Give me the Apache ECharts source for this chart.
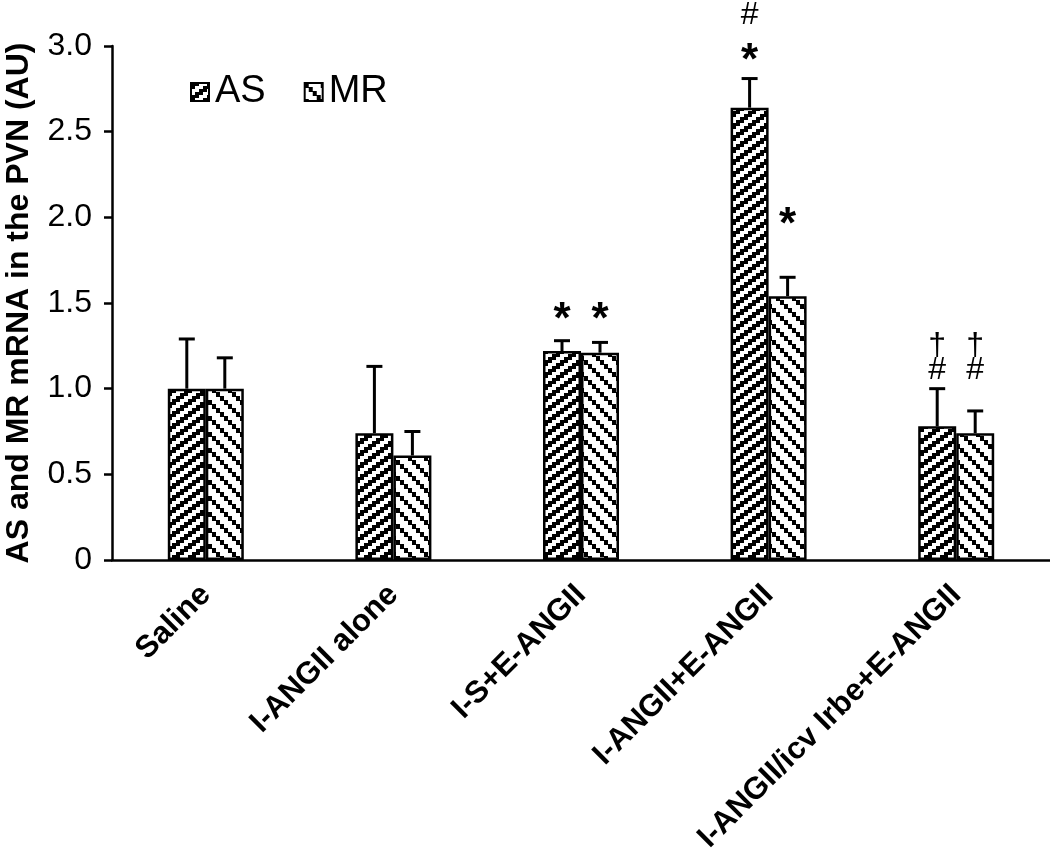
<!DOCTYPE html>
<html><head><meta charset="utf-8">
<script src="https://cdn.jsdelivr.net/npm/echarts@6/dist/echarts.min.js"></script>
<style>html,body{margin:0;padding:0;background:#fff}#c{width:1050px;height:861px}</style>
</head><body><div id="c"></div>
<script>
const categories = ['Saline', 'I-ANGII alone', 'I-S+E-ANGII', 'I-ANGII+E-ANGII', 'I-ANGII/icv Irbe+E-ANGII'];
const asValues = [1.00, 0.74, 1.22, 2.64, 0.78];
const asErrors = [0.29, 0.39, 0.06, 0.17, 0.22];
const mrValues = [1.00, 0.61, 1.21, 1.54, 0.74];
const mrErrors = [0.18, 0.14, 0.06, 0.11, 0.13];
const yTickLabels = ['0', '0.5', '1.0', '1.5', '2.0', '2.5', '3.0'];
// significance marks: [category index, y value, symbol]
const asMarks = [[2, 1.45, '*'], [3, 2.96, '*'], [3, 3.18, '#'], [4, 1.11, '#'], [4, 1.25, '†']];
const mrMarks = [[2, 1.45, '*'], [3, 2.00, '*'], [4, 1.11, '#'], [4, 1.25, '†']];

const FONT = '"Liberation Sans", Arial, Helvetica, sans-serif';
const BAR_W = 38;

function makePattern(W, H, fn) {
  const c = document.createElement('canvas');
  c.width = W; c.height = H;
  const ctx = c.getContext('2d');
  const img = ctx.createImageData(W, H);
  for (let y = 0; y < H; y++) for (let x = 0; x < W; x++) {
    const k = (y * W + x) * 4, b = fn(x, y) ? 0 : 255;
    img.data[k] = b; img.data[k + 1] = b; img.data[k + 2] = b; img.data[k + 3] = 255;
  }
  ctx.putImageData(img, 0, 0);
  return c;
}
// AS: "/" stair-step stripes; MR: "\" stair-step stripes
const asPat = makePattern(16, 12, (x, y) => ((y + Math.floor(x / 4) * 3) % 12) < 6);
const mrPat = makePattern(16, 16, (x, y) => ((((y - Math.floor(x / 4) * 4) % 16) + 16) % 16) < 5);

function errSeries(name, values, errors, sign) {
  return {
    type: 'custom', name: name + '-err', silent: true, clip: false, z: 5,
    data: values.map((v, i) => [i, v, v + errors[i]]),
    renderItem: (params, api) => {
      const base = api.coord([api.value(0), api.value(1)]);
      const top = api.coord([api.value(0), api.value(2)]);
      const x = base[0] + sign * BAR_W / 2;
      const st = { stroke: '#000', lineWidth: 3 };
      return { type: 'group', children: [
        { type: 'line', shape: { x1: x, y1: base[1], x2: x, y2: top[1] }, style: st },
        { type: 'line', shape: { x1: x - 8, y1: top[1], x2: x + 8, y2: top[1] }, style: st }
      ]};
    }
  };
}
function markSeries(name, marks, sign) {
  return {
    type: 'custom', name: name + '-mark', silent: true, clip: false, z: 6,
    data: marks.map(m => [m[0], m[1], m[2]]),
    renderItem: (params, api) => {
      const p = api.coord([api.value(0), api.value(1)]);
      const sym = marks[params.dataIndex][2];
      const isStar = sym === '*';
      return {
        type: 'text', x: p[0] + sign * BAR_W / 2, y: p[1] + (isStar ? 9 : 0),
        style: { text: sym, fill: '#000', align: 'center', verticalAlign: 'middle',
          font: (isStar ? 'bold 44px ' : '32px ') + FONT }
      };
    }
  };
}

const chart = echarts.init(document.getElementById('c'), null, { renderer: 'canvas' });
chart.setOption({
  backgroundColor: '#fff',
  animation: false,
  textStyle: { fontFamily: FONT, color: '#000' },
  grid: { left: 112, right: 0, top: 46, bottom: 301, containLabel: false, outerBoundsMode: 'none' },
  legend: {
    data: ['AS', 'MR'], left: 185, top: 68, itemWidth: 18, itemHeight: 18, itemGap: 38,
    icon: 'rect',
    itemStyle: { borderColor: '#000', borderWidth: 2 },
    textStyle: { fontSize: 38, fontFamily: FONT, color: '#000', padding: [0, 0, 0, 1] }
  },
  xAxis: {
    type: 'category', data: categories,
    axisLine: { lineStyle: { color: '#000', width: 2.5 } },
    axisTick: { show: false },
    axisLabel: { interval: 0, rotate: 45, margin: 30, fontSize: 31, fontWeight: 'bold', color: '#000', fontFamily: FONT }
  },
  yAxis: {
    type: 'value', min: 0, max: 3, interval: 0.5,
    name: 'AS and MR mRNA in the PVN (AU)', nameLocation: 'middle', nameGap: 77,
    nameTextStyle: { fontSize: 32, fontWeight: 'bold', color: '#000', fontFamily: FONT },
    axisLine: { show: true, lineStyle: { color: '#000', width: 2.5 } },
    axisTick: { show: true, inside: false, length: 8, lineStyle: { color: '#000', width: 2.5 } },
    splitLine: { show: false },
    axisLabel: { margin: 20, fontSize: 32, color: '#000', fontFamily: FONT,
      formatter: v => yTickLabels[Math.round(v / 0.5)] }
  },
  series: [
    { name: 'AS', type: 'bar', data: asValues, barWidth: BAR_W, barGap: '0%',
      itemStyle: { color: { image: asPat, repeat: 'repeat' }, borderColor: '#000', borderWidth: 2.5 } },
    { name: 'MR', type: 'bar', data: mrValues, barWidth: BAR_W, barGap: '0%',
      itemStyle: { color: { image: mrPat, repeat: 'repeat' }, borderColor: '#000', borderWidth: 2.5 } },
    errSeries('AS', asValues, asErrors, -1),
    errSeries('MR', mrValues, mrErrors, 1),
    markSeries('AS', asMarks, -1),
    markSeries('MR', mrMarks, 1)
  ]
});
</script></body></html>
